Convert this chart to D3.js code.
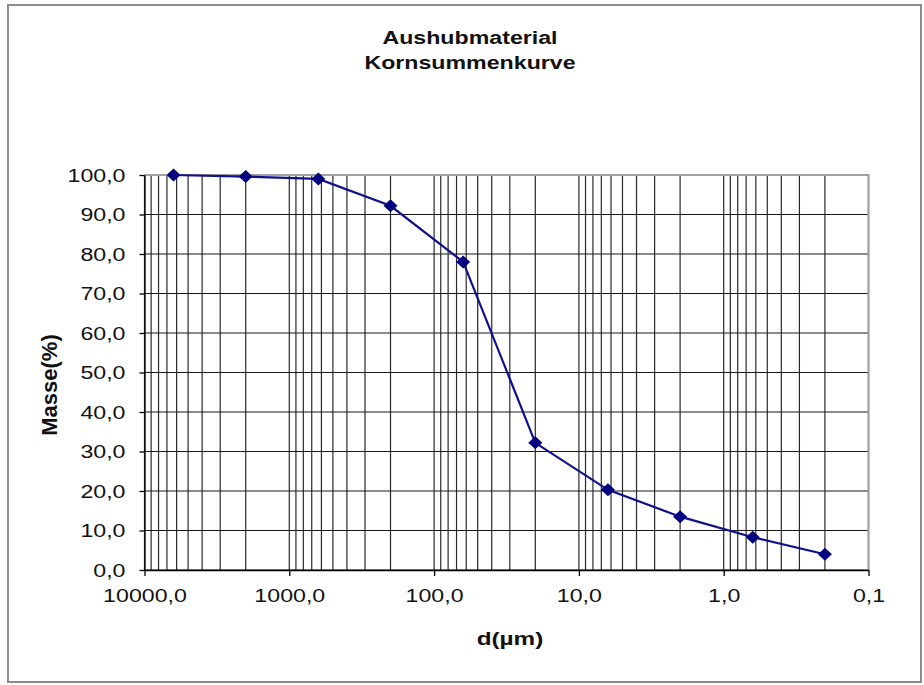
<!DOCTYPE html>
<html>
<head>
<meta charset="utf-8">
<script src="https://cdn.jsdelivr.net/npm/d3@7"></script>
<style>
  body { margin: 0; background: #fff; }
  text { font-family: "Liberation Sans", Arial, sans-serif; }
</style>
</head>
<body>
<div id="chart"></div>
<script>
// data
var sizes = [6300, 2000, 630, 200, 63, 20, 6.3, 2, 0.63, 0.2];   // d in µm
var masse = [100.0, 99.6, 99.0, 92.2, 78.0, 32.2, 20.3, 13.5, 8.3, 4.0];
var xTicks = [10000, 1000, 100, 10, 1, 0.1];
var yTicks = [0, 10, 20, 30, 40, 50, 60, 70, 80, 90, 100];
var titleLines = ["Aushubmaterial", "Kornsummenkurve"];

var W = 924, H = 685;
var plot = { left: 144.5, right: 868.5, top: 175, bottom: 570 };
var stretch = 1.22;   // the picture's text is a bit wide

var svg = d3.select("#chart")
    .append("svg")
    .attr("width", W)
    .attr("height", H);

// outer frame
svg.append("rect")
    .attr("x", 8).attr("y", 5)
    .attr("width", 913).attr("height", 677)
    .attr("fill", "#fff")
    .attr("stroke", "#8c8c8c")
    .attr("stroke-width", 2);

var x = d3.scaleLog()
    .domain([10000, 0.1])
    .range([plot.left, plot.right]);

var y = d3.scaleLinear()
    .domain([0, 100])
    .range([plot.bottom, plot.top]);

// vertical grid: 1..9 of every decade
var gridX = [];
[0.1, 1, 10, 100, 1000].forEach(function (dec) {
    for (var m = 1; m <= 9; m++) gridX.push(dec * m);
});
gridX.push(10000);

svg.append("g")
    .selectAll("line")
    .data(gridX)
    .enter().append("line")
    .attr("x1", function (d) { return x(d); })
    .attr("x2", function (d) { return x(d); })
    .attr("y1", plot.top)
    .attr("y2", plot.bottom)
    .attr("stroke", "#2a2a2a")
    .attr("stroke-width", 1.2);

// horizontal grid
svg.append("g")
    .selectAll("line")
    .data(yTicks)
    .enter().append("line")
    .attr("x1", plot.left)
    .attr("x2", plot.right)
    .attr("y1", function (d) { return y(d); })
    .attr("y2", function (d) { return y(d); })
    .attr("stroke", "#1a1a1a")
    .attr("stroke-width", 1.2);

// top and right border of the plot area in grey
svg.append("path")
    .attr("d", "M" + plot.left + "," + y(100) + "H" + plot.right + "V" + plot.bottom)
    .attr("fill", "none")
    .attr("stroke", "#a0a0a0")
    .attr("stroke-width", 2);

var comma = function (d) { return d.toFixed(1).replace(".", ","); };

// Y axis
var yAxis = svg.append("g")
    .attr("transform", "translate(" + plot.left + ",0)")
    .call(d3.axisLeft(y).tickValues(yTicks).tickSize(5).tickSizeOuter(0).tickFormat(comma));
yAxis.selectAll("text")
    .attr("x", 0)
    .attr("transform", "translate(-19,0) scale(" + stretch + ",1)")
    .style("font-size", "19px")
    .attr("fill", "#111");

// X axis
var xAxis = svg.append("g")
    .attr("transform", "translate(0," + plot.bottom + ")")
    .call(d3.axisBottom(x).tickValues(xTicks).tickSize(6).tickSizeOuter(0).tickPadding(13).tickFormat(comma));
xAxis.selectAll("text")
    .attr("transform", "scale(" + stretch + ",1)")
    .style("font-size", "19px")
    .attr("fill", "#111");

svg.selectAll(".domain").attr("stroke", "#000").attr("stroke-width", 1.3);
svg.selectAll(".tick line").attr("stroke", "#000").attr("stroke-width", 1.3);

// curve
var pts = sizes.map(function (s, i) { return [s, masse[i]]; });

svg.append("path")
    .datum(pts)
    .attr("fill", "none")
    .attr("stroke", "#10108c")
    .attr("stroke-width", 2.2)
    .attr("d", d3.line()
        .x(function (d) { return x(d[0]); })
        .y(function (d) { return y(d[1]); }));

// diamond markers (a bit wider than tall)
var diamond = {
    draw: function (ctx, size) {
        var w = 7, h = 6.5;
        ctx.moveTo(0, -h);
        ctx.lineTo(w, 0);
        ctx.lineTo(0, h);
        ctx.lineTo(-w, 0);
        ctx.closePath();
    }
};

svg.append("g")
    .selectAll("path")
    .data(pts)
    .enter().append("path")
    .attr("d", d3.symbol().type(diamond))
    .attr("transform", function (d) { return "translate(" + x(d[0]) + "," + y(d[1]) + ")"; })
    .attr("fill", "#000080");

// title
svg.append("g")
    .selectAll("text")
    .data(titleLines)
    .enter().append("text")
    .attr("text-anchor", "middle")
    .attr("transform", function (d, i) { return "translate(470," + (44 + i * 25) + ") scale(" + stretch + ",1)"; })
    .style("font-size", "19px")
    .style("font-weight", "bold")
    .attr("fill", "#111")
    .text(function (d) { return d; });

// axis titles
svg.append("text")
    .attr("text-anchor", "middle")
    .attr("transform", "translate(510,645) scale(1.28,1)")
    .style("font-size", "19px")
    .style("font-weight", "bold")
    .attr("fill", "#111")
    .text("d(µm)");

svg.append("text")
    .attr("text-anchor", "middle")
    .attr("transform", "translate(57,385) rotate(-90)")
    .style("font-size", "22px")
    .style("font-weight", "bold")
    .attr("fill", "#111")
    .text("Masse(%)");
</script>
</body>
</html>
